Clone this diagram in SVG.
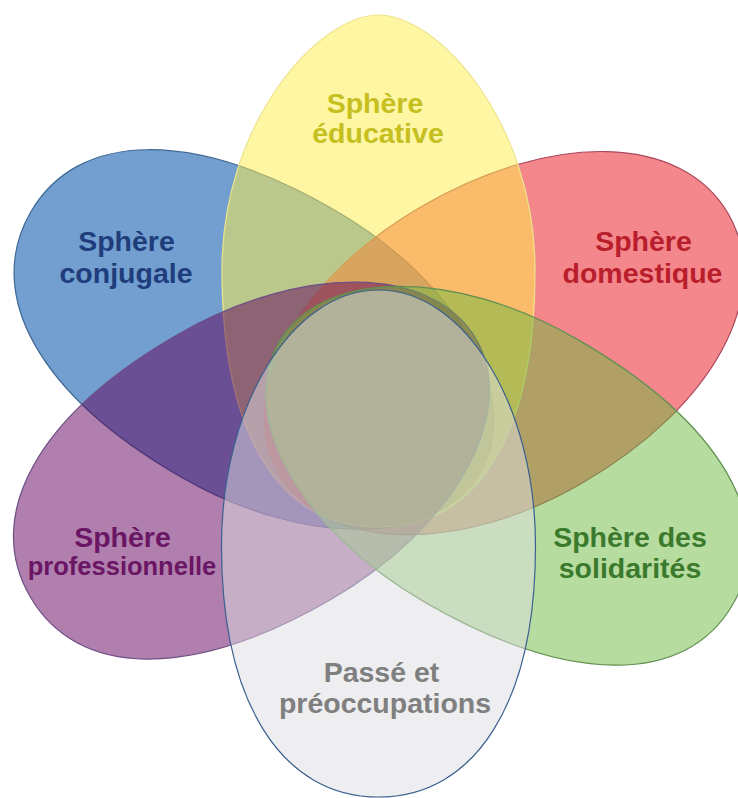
<svg xmlns="http://www.w3.org/2000/svg" width="738" height="798" viewBox="0 0 738 798">
  <style>
    .lbl { font-family: "Liberation Sans", Arial, sans-serif; font-weight: bold; font-size: 28.5px; text-anchor: middle; }
    .petal { stroke-width: 1.2; }
  </style>
  <rect width="738" height="798" fill="#ffffff"/>
  <g id="sphere-conjugale">
    <path class="petal" transform="translate(257.5,343.3) rotate(-60)" fill="#729fcf" stroke="#3f6793"
      d="M -154,0 C -154,-162 -95.5,-262 0,-262 C 95.5,-262 154,-162 154,0 C 154,144 86.2,257 0,257 C -86.2,257 -154,144 -154,0 Z"/>
    <text class="lbl" fill="#1f3d7c"><tspan x="126.5" y="251">Sphère</tspan><tspan x="126" y="283">conjugale</tspan></text>
  </g>
  <g id="sphere-domestique">
    <path class="petal" transform="translate(501.5,345) rotate(60)" fill="#e90f17" fill-opacity="0.5" stroke="#a8485a"
      d="M -160,0 C -160,-152 -92.8,-262 0,-262 C 92.8,-262 160,-152 160,0 C 160,144 89.6,257 0,257 C -89.6,257 -160,144 -160,0 Z"/>
    <text class="lbl" fill="#b81e2b"><tspan x="643.5" y="251">Sphère</tspan><tspan x="642.5" y="283">domestique</tspan></text>
  </g>
  <g id="sphere-educative">
    <path class="petal" transform="translate(378.5,270)" fill="#ffee4e" fill-opacity="0.52" stroke="#ece48c"
      d="M -156.5,0 C -156.5,-148 -59.5,-255 0,-255 C 59.5,-255 156.5,-148 156.5,0 C 156.5,164.5 100.2,257 0,257 C -100.2,257 -156.5,164.5 -156.5,0 Z"/>
    <text class="lbl" fill="#c5bf1f"><tspan x="375" y="113">Sphère</tspan><tspan x="378" y="143">éducative</tspan></text>
  </g>
  <g id="sphere-professionnelle">
    <path class="petal" transform="translate(253.5,467.5) rotate(240)" fill="#61005b" fill-opacity="0.5" stroke="#6d4d86"
      d="M -153,0 C -153,-160 -94.9,-258 0,-258 C 94.9,-258 153,-160 153,0 C 153,144 85.7,257 0,257 C -85.7,257 -153,144 -153,0 Z"/>
    <text class="lbl" fill="#6b1565"><tspan x="122.5" y="547">Sphère</tspan><tspan x="122" y="575" style="font-size:25.5px">professionnelle</tspan></text>
  </g>
  <g id="sphere-solidarites">
    <path class="petal" transform="translate(501.5,471) rotate(120)" fill="#6db941" fill-opacity="0.5" stroke="#5f9050"
      d="M -152,0 C -152,-165.5 -94.2,-267 0,-267 C 94.2,-267 152,-165.5 152,0 C 152,144 85.1,257 0,257 C -85.1,257 -152,144 -152,0 Z"/>
    <text class="lbl" fill="#3b7a2c"><tspan x="630" y="547">Sphère des</tspan><tspan x="630" y="578">solidarités</tspan></text>
  </g>
  <g id="passe-preoccupations">
    <path class="petal" transform="translate(378.5,546) rotate(180)" fill="#dddde1" fill-opacity="0.5" stroke="#3a5f8f"
      d="M -157,0 C -157,-155.6 -97.3,-251 0,-251 C 97.3,-251 157,-155.6 157,0 C 157,140.8 86.4,256 0,256 C -86.4,256 -157,140.8 -157,0 Z"/>
    <text class="lbl" fill="#7f7f7f"><tspan x="381.5" y="682">Passé et</tspan><tspan x="385" y="713">préoccupations</tspan></text>
  </g>
</svg>
